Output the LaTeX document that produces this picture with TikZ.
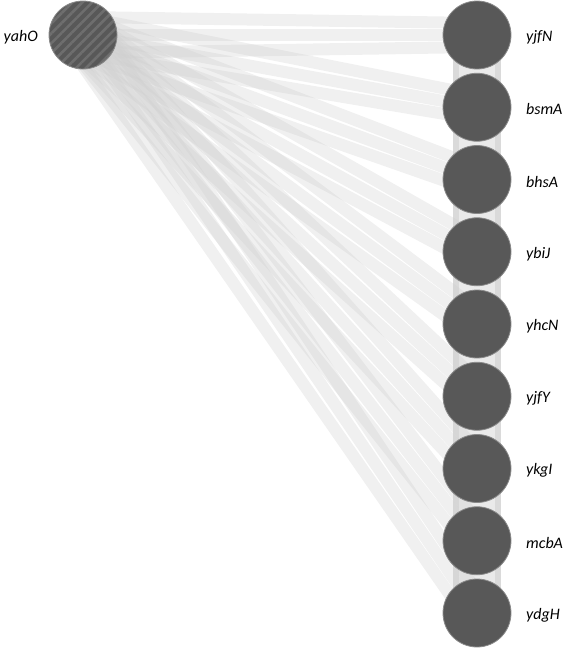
\documentclass[tikz,border=0pt]{standalone}
\usepackage{fontspec}
\setmainfont{Carlito}
\usetikzlibrary{patterns.meta,calc}
\pgfdeclarelayer{bg}
\pgfsetlayers{bg,main}
\definecolor{nodegray}{RGB}{88,88,88}
\definecolor{hatchgray}{RGB}{110,110,110}
\definecolor{edgegray}{RGB}{205,205,205}
\definecolor{chainout}{RGB}{218,218,218}
\definecolor{chainin}{RGB}{234,234,234}
\tikzset{
  gene/.style={circle,minimum size=68pt,inner sep=0pt,fill=nodegray,draw=nodegray!70!white,line width=0.8pt},
  hub/.style={gene,preaction={fill=nodegray},pattern={Lines[angle=45,distance=7pt,line width=2.6pt]},pattern color=hatchgray},
  lbl/.style={font=\itshape\fontsize{16}{18}\selectfont,anchor=west,inner sep=0pt},
  band/.style={draw=edgegray,opacity=0.3,line width=12pt},
  chainA/.style={draw=chainout,line width=48pt},
  chainB/.style={draw=chainin,line width=36pt}
}
\begin{document}
\begin{tikzpicture}[x=1pt,y=1pt]
\useasboundingbox (0,0) rectangle (566,-649);
\node[hub] (yahO) at (83,-35) {};
\node[lbl,anchor=east] (lyahO) at (38,-37) {yahO};
\foreach \n/\i in {yjfN/0,bsmA/1,bhsA/2,ybiJ/3,yhcN/4,yjfY/5,ykgI/6,mcbA/7,ydgH/8}{
  \node[gene] (\n) at (477,{-35-72.25*\i}) {};
  \node[lbl] (l\n) at (526,{-37-72.25*\i}) {\n};
}
\begin{pgfonlayer}{bg}
\foreach \a/\b in {yjfN/bsmA,bsmA/bhsA,bhsA/ybiJ,ybiJ/yhcN,yhcN/yjfY,yjfY/ykgI,ykgI/mcbA,mcbA/ydgH}{
  \draw[chainA] (\a.center) -- (\b.center);
  \draw[chainB] (\a.center) -- (\b.center);
}
\foreach \n in {yjfN,bsmA,bhsA,ybiJ,yhcN,yjfY,ykgI,mcbA,ydgH}{
  \foreach \s/\e in {-18/-12,0/0,18/12}{
    \draw[band] ($(yahO.center)!\s pt!90:(\n.center)$) -- ($(\n.center)!\e pt!-90:(yahO.center)$);
  }
}
\end{pgfonlayer}
\end{tikzpicture}
\end{document}
